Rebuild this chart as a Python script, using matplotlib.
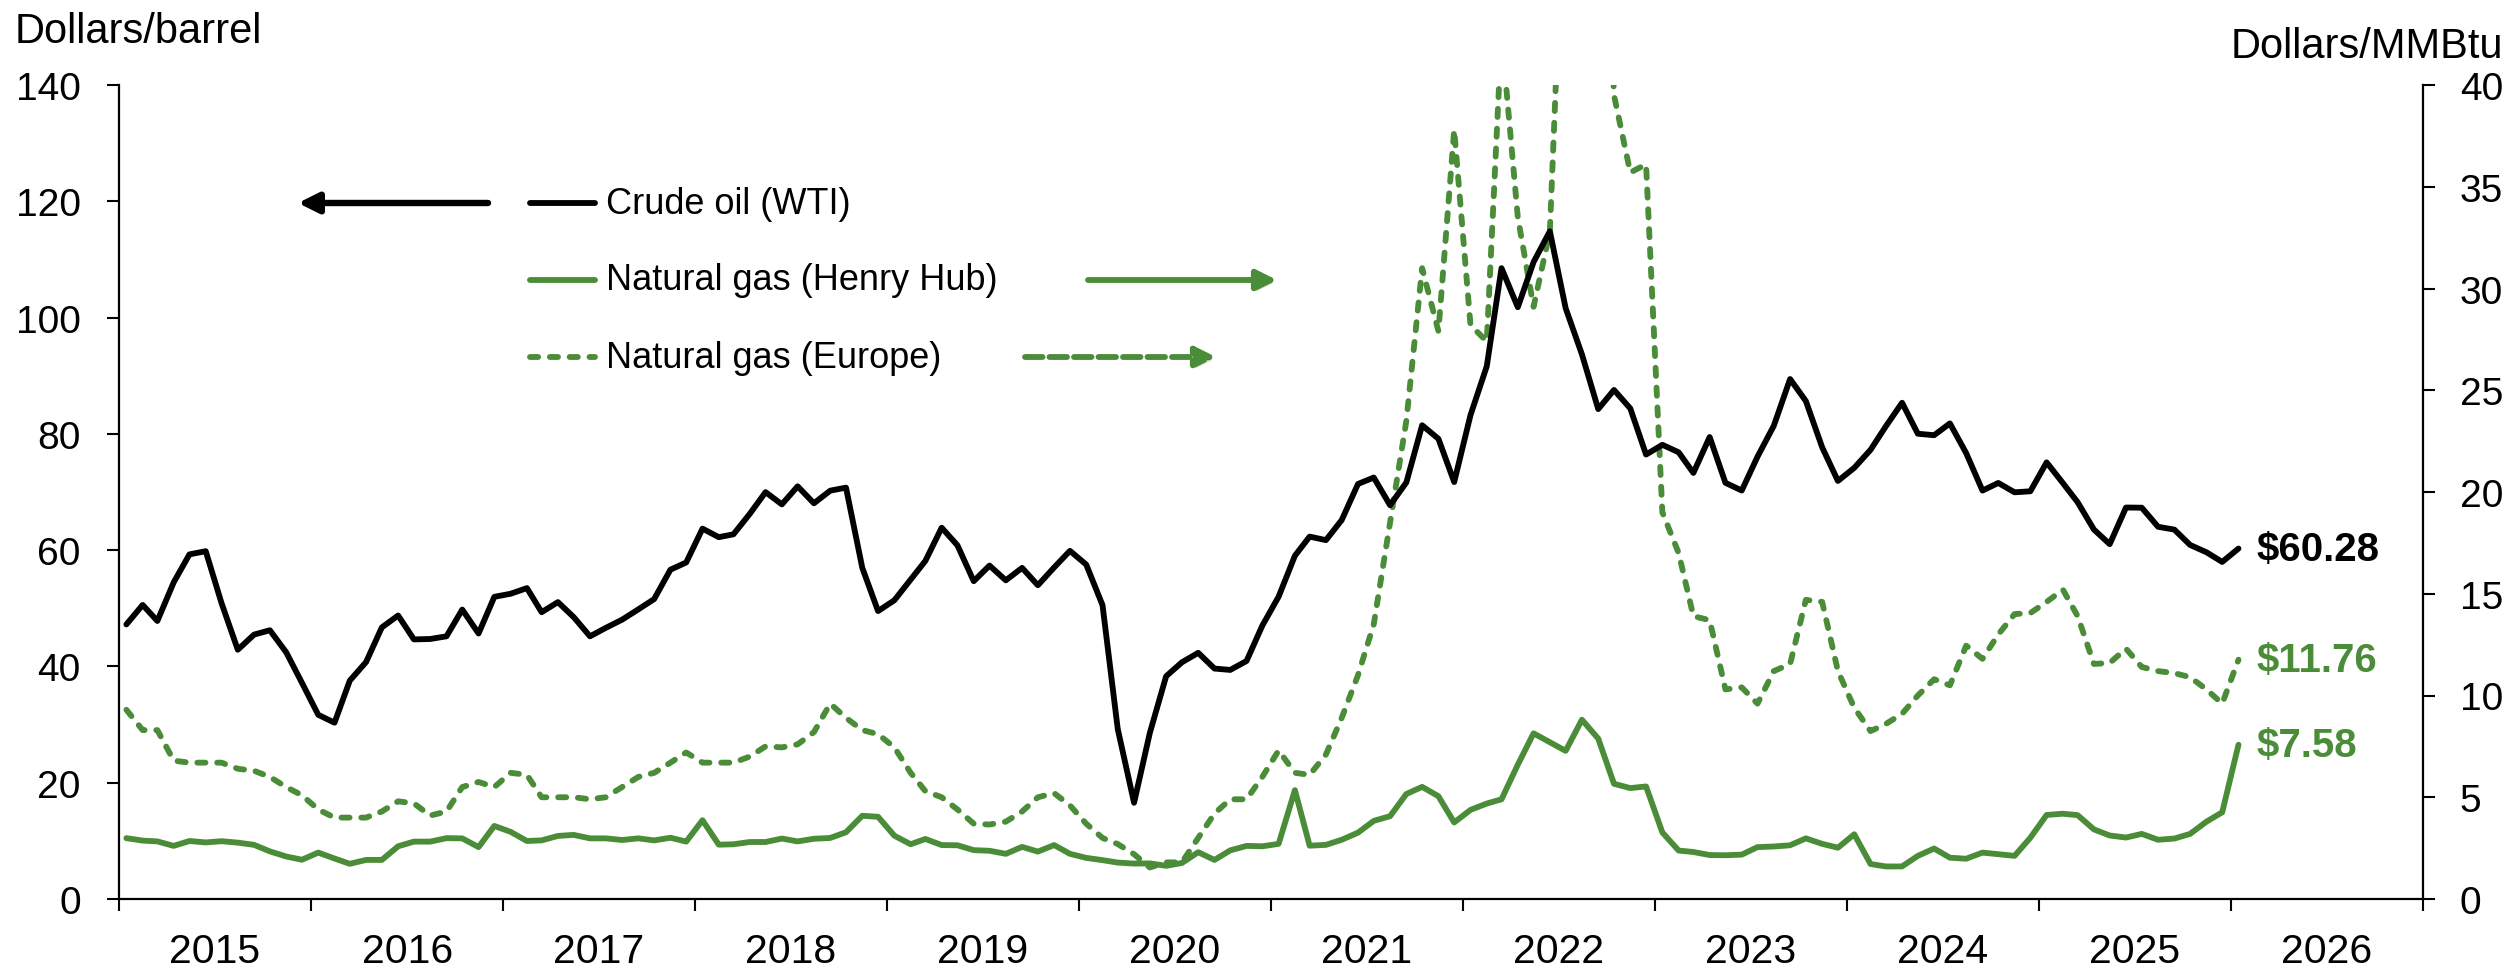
import matplotlib

matplotlib.use("Agg")

import matplotlib.dates as mdates
import matplotlib.patheffects as pe
import matplotlib.pyplot as plt
import pandas as pd
from matplotlib.lines import Line2D

# monthly averages, Jan 2015 .. Jan 2026
MONTHS = pd.date_range("2015-01-01", "2026-01-01", freq="MS") + pd.Timedelta(days=14)

WTI = [
    47.22, 50.58, 47.82, 54.45, 59.27, 59.82, 50.90, 42.87, 45.48, 46.22, 42.44, 37.19,
    31.68, 30.32, 37.55, 40.75, 46.71, 48.76, 44.65, 44.72, 45.18, 49.78, 45.66, 51.97,
    52.50, 53.47, 49.33, 51.06, 48.48, 45.18, 46.63, 48.04, 49.82, 51.58, 56.64, 57.88,
    63.70, 62.23, 62.73, 66.25, 69.98, 67.87, 70.98, 68.06, 70.23, 70.75, 56.96, 49.52,
    51.38, 54.95, 58.15, 63.86, 60.83, 54.66, 57.35, 54.81, 56.95, 53.96, 57.03, 59.88,
    57.52, 50.54, 29.21, 16.55, 28.56, 38.31, 40.71, 42.34, 39.63, 39.40, 40.94, 47.02,
    52.00, 59.04, 62.33, 61.72, 65.17, 71.38, 72.49, 67.73, 71.65, 81.48, 79.15, 71.71,
    83.22, 91.64, 108.50, 101.78, 109.55, 114.84, 101.62, 93.67, 84.26, 87.55, 84.37, 76.44,
    78.12, 76.83, 73.28, 79.45, 71.58, 70.25, 76.07, 81.39, 89.43, 85.64, 77.69, 71.90,
    74.15, 77.25, 81.28, 85.35, 80.02, 79.77, 81.80, 76.68, 70.24, 71.56, 69.95, 70.12,
    75.10, 71.53, 68.24, 63.54, 61.03, 67.33, 67.30, 64.02, 63.53, 60.89, 59.64, 57.97,
    60.28,
]

HENRY_HUB = [
    2.99, 2.87, 2.83, 2.61, 2.85, 2.78, 2.84, 2.77, 2.66, 2.34, 2.09, 1.93,
    2.28, 1.99, 1.73, 1.92, 1.92, 2.59, 2.82, 2.82, 2.99, 2.98, 2.55, 3.59,
    3.30, 2.85, 2.88, 3.10, 3.15, 2.98, 2.98, 2.90, 2.98, 2.88, 3.01, 2.82,
    3.87, 2.67, 2.69, 2.80, 2.80, 2.97, 2.83, 2.96, 3.00, 3.28, 4.09, 4.04,
    3.11, 2.69, 2.95, 2.65, 2.64, 2.40, 2.37, 2.22, 2.56, 2.33, 2.65, 2.22,
    2.02, 1.91, 1.79, 1.74, 1.75, 1.63, 1.77, 2.30, 1.92, 2.39, 2.61, 2.59,
    2.71, 5.35, 2.62, 2.66, 2.91, 3.26, 3.84, 4.07, 5.16, 5.51, 5.05, 3.76,
    4.38, 4.69, 4.90, 6.60, 8.14, 7.70, 7.28, 8.81, 7.88, 5.66, 5.45, 5.53,
    3.27, 2.38, 2.31, 2.16, 2.15, 2.18, 2.55, 2.58, 2.64, 2.98, 2.71, 2.52,
    3.18, 1.72, 1.60, 1.60, 2.12, 2.48, 2.03, 1.98, 2.28, 2.20, 2.12, 3.01,
    4.13, 4.19, 4.12, 3.42, 3.12, 3.02, 3.20, 2.91, 2.97, 3.20, 3.80, 4.26,
    7.58,
]

EUROPE = [
    9.3, 8.3, 8.3, 6.8, 6.7, 6.7, 6.7, 6.4, 6.3, 6.0, 5.5, 5.1,
    4.4, 4.0, 4.0, 4.0, 4.3, 4.8, 4.7, 4.1, 4.3, 5.5, 5.75, 5.5,
    6.2, 6.1, 5.0, 5.0, 5.0, 4.9, 5.0, 5.5, 6.0, 6.2, 6.7, 7.2,
    6.7, 6.7, 6.7, 7.0, 7.5, 7.45, 7.6, 8.2, 9.6, 8.9, 8.3, 8.1,
    7.45, 6.2, 5.3, 5.0, 4.4, 3.7, 3.66, 3.8, 4.3, 5.0, 5.2, 4.6,
    3.7, 3.0, 2.7, 2.2, 1.55, 1.8, 1.8, 3.0, 4.2, 4.9, 4.9, 6.0,
    7.3, 6.2, 6.1, 7.1, 8.9, 11.0, 13.5, 18.5, 23.5, 31.0, 27.9, 37.8,
    28.2, 27.4, 42.5, 33.5, 29.1, 32.8, 52.0, 70.0, 59.0, 39.5, 35.7, 36.1,
    19.0, 17.0, 13.9, 13.7, 10.3, 10.4, 9.6, 11.2, 11.55, 14.7, 14.6, 11.2,
    9.4, 8.25, 8.6, 9.1, 10.0, 10.8, 10.5, 12.45, 11.8, 13.0, 14.0, 14.05,
    14.6, 15.2, 13.9, 11.55, 11.6, 12.3, 11.4, 11.2, 11.1, 10.9, 10.3, 9.6,
    11.76,
]

YEARS = list(range(2015, 2027))
LEFT_TICKS = [0, 20, 40, 60, 80, 100, 120, 140]
RIGHT_TICKS = [0, 5, 10, 15, 20, 25, 30, 35, 40]

LEGEND_LABELS = ["Crude oil (WTI)", "Natural gas (Henry Hub)", "Natural gas (Europe)"]

GREEN = "#4a8c37"
LINE_W = 4.2
DASHED = (0, (1.4, 2.0))
W, H = 2519, 970

plt.rcParams["font.family"] = ["Liberation Sans", "DejaVu Sans"]


def fx(px):
    return px / W


def fy(py):
    # py measured from the top of the image
    return 1 - py / H


fig = plt.figure(figsize=(W / 100, H / 100), dpi=100)
ax = fig.add_axes([fx(119), 70 / H, (2423 - 119) / W, (900 - 86) / H])
ax2 = ax.twinx()

ax.set_zorder(2)
ax2.set_zorder(1)
ax.patch.set_visible(False)

ax2.plot(MONTHS, HENRY_HUB, color=GREEN, lw=LINE_W, solid_joinstyle="round", solid_capstyle="round")
ax2.plot(MONTHS, EUROPE, color=GREEN, lw=LINE_W, linestyle=DASHED,
         dash_capstyle="round", dash_joinstyle="round")
ax.plot(MONTHS, WTI, color="black", lw=LINE_W, solid_joinstyle="round", solid_capstyle="round")

ax.set_xlim(pd.Timestamp("2015-01-01"), pd.Timestamp("2027-01-01"))
ax.set_ylim(0, 140)
ax2.set_ylim(0, 40)
ax.set_yticks(LEFT_TICKS)
ax2.set_yticks(RIGHT_TICKS)

ax.xaxis.set_major_locator(mdates.YearLocator())
ax.xaxis.set_major_formatter(plt.NullFormatter())
ax.set_xticks([pd.Timestamp(f"{y}-07-02") for y in YEARS], minor=True)
ax.set_xticklabels([str(y) for y in YEARS], minor=True)

for a in (ax, ax2):
    a.spines["top"].set_visible(False)
    for s in a.spines.values():
        s.set_linewidth(1.6)
ax.spines["right"].set_visible(False)
ax2.spines["left"].set_visible(False)
ax2.spines["bottom"].set_visible(False)

ax.tick_params(axis="x", which="major", direction="out", length=8.6, width=1.5)
ax.tick_params(axis="x", which="minor", length=0, pad=24, labelsize=29.5)
ax.tick_params(axis="y", direction="out", length=8.6, width=1.5, pad=19, labelsize=28)
ax2.tick_params(axis="y", direction="out", length=8.6, width=1.5, pad=18, labelsize=28)

# axis unit titles
fig.text(fx(15), fy(43), "Dollars/barrel", fontsize=30, ha="left", va="baseline")
fig.text(fx(2503), fy(58), "Dollars/MMBtu", fontsize=30, ha="right", va="baseline")

# last-value labels
ax.annotate(f"${WTI[-1]:.2f}", xy=(MONTHS[-1], WTI[-1]), xytext=(13, 0),
            textcoords="offset points", ha="left", va="center",
            fontsize=29, fontweight="bold", color="black", annotation_clip=False)
ax2.annotate(f"${EUROPE[-1]:.2f}", xy=(MONTHS[-1], EUROPE[-1]), xytext=(13, 0),
             textcoords="offset points", ha="left", va="center",
             fontsize=29, fontweight="bold", color=GREEN, annotation_clip=False)
ax2.annotate(f"${HENRY_HUB[-1]:.2f}", xy=(MONTHS[-1], HENRY_HUB[-1]), xytext=(13, 0),
             textcoords="offset points", ha="left", va="center",
             fontsize=29, fontweight="bold", color=GREEN, annotation_clip=False)

# legend drawn by hand so the axis arrows can sit beside it
legend_rows = [
    (204, "black", "-"),
    (281, GREEN, "-"),
    (358, GREEN, DASHED),
]
for (row_y, color, style), label in zip(legend_rows, LEGEND_LABELS):
    handle = Line2D([fx(530), fx(595)], [fy(row_y), fy(row_y)], transform=fig.transFigure,
                    color=color, lw=LINE_W, linestyle=style,
                    solid_capstyle="round", dash_capstyle="round")
    fig.add_artist(handle)
    fig.text(fx(606), fy(row_y), label, fontsize=26, ha="left", va="center")

shadow = [pe.SimplePatchShadow(offset=(2, -2), alpha=0.25), pe.Normal()]
arrows = [
    ((488, 204), (298, 204), "black", "-", 4.6),
    ((1088, 281), (1277, 281), GREEN, "-", 4.2),
    ((1025, 358), (1216, 358), GREEN, (0, (3.0, 1.2)), 4.2),
]
for start, end, color, style, width in arrows:
    ann = ax.annotate(
        "",
        xy=(end[0], H - end[1]), xycoords="figure pixels",
        xytext=(start[0], H - start[1]), textcoords="figure pixels",
        arrowprops=dict(arrowstyle="-|>", color=color, lw=width, linestyle=style,
                        mutation_scale=30, shrinkA=0, shrinkB=0),
        annotation_clip=False,
    )
    ann.arrow_patch.set_path_effects(shadow)

fig.savefig("out.png", dpi=100)
